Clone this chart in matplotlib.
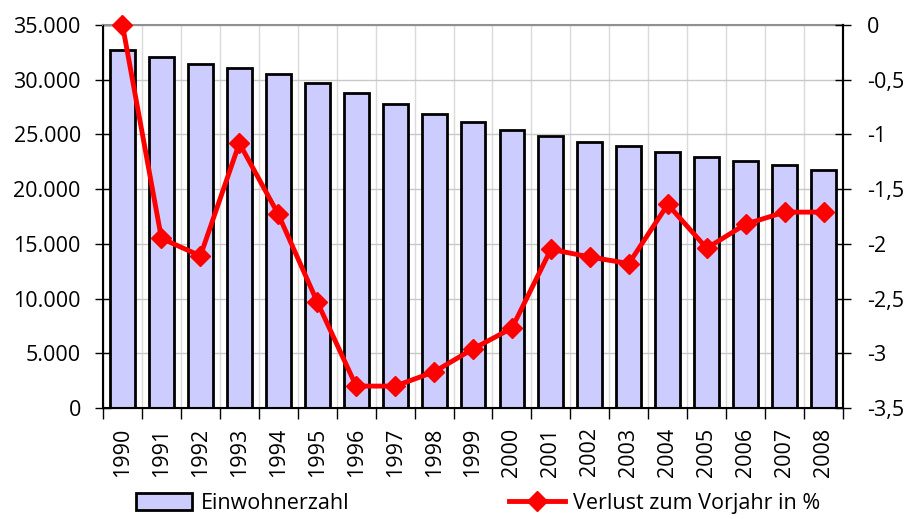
import numpy as np
import matplotlib.pyplot as plt
from matplotlib.patches import Patch
from matplotlib.lines import Line2D
from matplotlib.ticker import FuncFormatter

plt.rcParams['font.family'] = ['Open Sans', 'DejaVu Sans']

years = [str(y) for y in range(1990, 2009)]
einwohner = [32700, 32050, 31400, 31050, 30500, 29700, 28750, 27800, 26900,
             26100, 25400, 24850, 24300, 23900, 23400, 22950, 22550, 22200, 21750]
verlust = [0.0, -1.95, -2.11, -1.08, -1.73, -2.53, -3.30, -3.30, -3.17,
           -2.96, -2.77, -2.05, -2.12, -2.18, -1.64, -2.04, -1.82, -1.71, -1.71]

fs = 15.5
fig = plt.figure(figsize=(9.06, 5.19), dpi=100)
ax = fig.add_axes([0.1137, 0.2139, 0.8168, 0.7379])
x = np.arange(len(years))

ax.bar(x, einwohner, width=0.64, color='#CCCCFF', edgecolor='black', linewidth=2, zorder=2)
ax.set_xlim(-0.5, len(years) - 0.5)
ax.set_ylim(0, 35000)
ax.set_yticks(np.arange(0, 35001, 5000))
ax.yaxis.set_major_formatter(FuncFormatter(lambda v, p: f'{int(v):,}'.replace(',', '.')))
ax.set_xticks(x)
ax.set_xticklabels(years, rotation=90)
ax.set_xticks(np.arange(-0.5, len(years)), minor=True)
ax.tick_params(axis='x', which='major', length=0, pad=14, labelsize=fs)
ax.tick_params(axis='x', which='minor', length=8, width=1, direction='out')
ax.tick_params(axis='y', length=12, width=1, direction='inout', pad=10, labelsize=fs)
ax.grid(axis='y', color='#C8C8C8', linewidth=1, zorder=0)
ax.grid(axis='x', which='minor', color='#DADADA', linewidth=1, zorder=0)
ax.set_axisbelow(True)
for s in ['left', 'bottom', 'right']:
    ax.spines[s].set_linewidth(1.5)
ax.spines['top'].set_color('#909090')
ax.spines['top'].set_linewidth(1.5)

ax2 = ax.twinx()
ax2.plot(x, verlust, color='#FF0000', linewidth=3.5, marker='D', markersize=10,
         zorder=3, clip_on=False)
ax2.set_ylim(-3.5, 0)
ax2.set_yticks(np.arange(-3.5, 0.01, 0.5))
ax2.yaxis.set_major_formatter(FuncFormatter(lambda v, p: f'{v:g}'.replace('.', ',')))
ax2.tick_params(axis='y', length=12, width=1, direction='inout', pad=11, labelsize=fs)
ax2.spines['right'].set_linewidth(1.5)
ax2.spines['top'].set_visible(False)

handles = [Patch(facecolor='#CCCCFF', edgecolor='black', linewidth=2),
           Line2D([], [], color='#FF0000', linewidth=3.5, marker='D', markersize=10)]
fig.legend(handles, ['Einwohnerzahl', 'Verlust zum Vorjahr in %'], ncol=2,
           loc='center', bbox_to_anchor=(0.528, 0.03), frameon=False, fontsize=fs,
           handlelength=2.6, handleheight=0.8, columnspacing=7.4, handletextpad=0.4)

fig.savefig('out.png', dpi=100)
